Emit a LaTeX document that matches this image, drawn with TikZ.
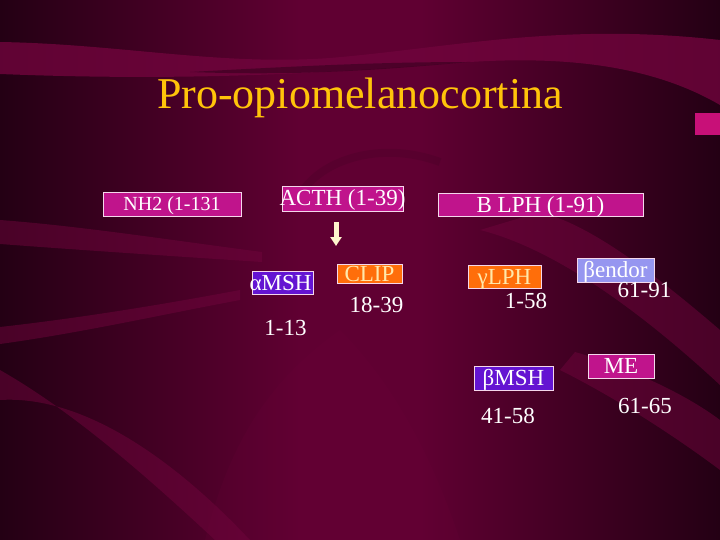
\documentclass[tikz,border=0pt]{standalone}
\usepackage{fontspec}
\setmainfont{Liberation Serif}
\usetikzlibrary{arrows.meta}
\definecolor{bgdark}{RGB}{36,0,20}
\definecolor{bgmid}{RGB}{96,0,50}
\definecolor{bandc}{RGB}{112,4,60}
\definecolor{shadowc}{RGB}{45,0,25}
\definecolor{magbox}{RGB}{192,20,140}
\definecolor{violbox}{RGB}{100,20,210}
\definecolor{orbox}{RGB}{255,110,10}
\definecolor{lavbox}{RGB}{150,150,240}
\definecolor{boxline}{RGB}{245,215,235}
\definecolor{titlec}{RGB}{255,196,10}
\definecolor{creamc}{RGB}{255,232,170}
\definecolor{arrowc}{RGB}{255,245,205}
\definecolor{pinkbar}{RGB}{200,16,120}
\begin{document}
\begin{tikzpicture}[x=1pt,y=-1pt,
  box/.style={draw=boxline, line width=0.8pt, inner sep=0pt, text=white,
    font=\fontsize{23}{23}\selectfont, text height=15pt, text depth=0pt},
  num/.style={anchor=base, inner sep=0pt, text=white, font=\fontsize{23}{23}\selectfont},
  band/.style={fill=bandc, opacity=0.5},
  arr/.style={draw=arrowc, line width=5pt, -{Triangle[width=11pt,length=9pt]}}]
\useasboundingbox (0,0) rectangle (720,540);
% background
\begin{scope}
\clip (0,0) rectangle (720,540);
\fill[bgdark] (0,0) rectangle (720,540);
\shade[left color=bgdark, right color=bgmid] (0,0) rectangle (300,540);
\fill[bgmid] (299,0) rectangle (421,540);
\shade[left color=bgmid, right color=bgdark] (420,0) rectangle (720,540);
% upper wave band
\fill[band, opacity=0.8] (0,42) .. controls (120,44) and (220,66) .. (330,58)
  .. controls (450,48) and (560,22) .. (720,40) -- (720,105)
  .. controls (660,70) and (580,55) .. (470,62)
  .. controls (340,72) and (200,82) .. (0,74) -- cycle;
\fill[shadowc, opacity=0.5] (190,72) .. controls (300,66) and (380,62) .. (470,62)
  .. controls (380,70) and (300,76) .. (190,72) -- cycle;
% faint hump around ACTH
\draw[shadowc, opacity=0.15, line width=8pt] (300,195) .. controls (320,160) and (380,140) .. (440,162);
% left bands
\fill[band] (0,220) .. controls (80,226) and (170,240) .. (262,252)
  -- (262,262) .. controls (170,256) and (80,250) .. (0,244) -- cycle;
\fill[band] (0,327) .. controls (80,318) and (160,305) .. (240,290)
  -- (240,300) .. controls (160,315) and (80,333) .. (0,344) -- cycle;
\fill[band] (0,370) .. controls (70,410) and (140,470) .. (215,540)
  -- (250,540) .. controls (170,455) and (80,395) .. (0,400) -- cycle;
% central curved edge
\fill[band, opacity=0.15] (205,540) .. controls (230,440) and (270,380) .. (340,330)
  .. controls (390,380) and (430,450) .. (460,540) -- cycle;
% right diagonal bands
\fill[band] (480,230) .. controls (560,250) and (650,320) .. (720,385)
  -- (720,330) .. controls (650,270) and (590,225) .. (540,212) -- cycle;
\fill[band] (560,370) .. controls (620,400) and (680,440) .. (720,470)
  -- (720,420) .. controls (680,390) and (620,365) .. (575,352) -- cycle;
\fill[pinkbar] (695,113) rectangle (720,135);
\end{scope}
% title
\node[anchor=base, inner sep=0pt, text=titlec, font=\fontsize{44}{44}\selectfont] (title) at (360,109) {Pro-opiomelanocortina};
% boxes
\node[box, fill=magbox, minimum width=138pt, minimum height=24pt, font=\fontsize{20}{20}\selectfont, text height=13pt] (nh2) at (172,204) {\makebox[138pt]{NH2 (1-131}};
\node[box, fill=magbox, minimum width=121pt, minimum height=25pt] (acth) at (342.5,198.5) {\makebox[121pt]{ACTH (1-39)}};
\node[box, fill=magbox, minimum width=205pt, minimum height=23pt] (blph) at (540.5,204.5) {\makebox[205pt]{B LPH (1-91)}};
\node[box, fill=violbox, minimum width=61pt, minimum height=23pt] (amsh) at (282.5,282.5) {\makebox[61pt]{\kern-4pt αMSH}};
\node[box, fill=orbox, minimum width=65pt, minimum height=19pt, text=creamc] (clip) at (369.5,273.5) {\makebox[65pt]{CLIP}};
\node[box, fill=orbox, minimum width=73pt, minimum height=23pt, text=creamc] (glph) at (504.5,276.5) {\makebox[73pt]{γLPH}};
\node[box, fill=lavbox, minimum width=77pt, minimum height=24pt] (bend) at (615.5,270) {\makebox[77pt]{βendor}};
\node[box, fill=violbox, minimum width=79pt, minimum height=24pt] (bmsh) at (513.5,378) {\makebox[79pt]{βMSH}};
\node[box, fill=magbox, minimum width=66pt, minimum height=24pt] (me) at (621,366) {\makebox[66pt]{ME}};
% numbers
\node[num] (n113) at (285.5,335) {1-13};
\node[num] (n1839) at (376.5,312) {18-39};
\node[num] (n158) at (526,308) {1-58};
\node[num] (n6191) at (644.5,297) {61-91};
\node[num] (n4158) at (508,423) {41-58};
\node[num] (n6165) at (645,413) {61-65};
% arrow
\coordinate (as) at (336,222);
\coordinate (ae) at (336,246);
\draw[arr] (as) -- (ae);
\end{tikzpicture}
\end{document}
